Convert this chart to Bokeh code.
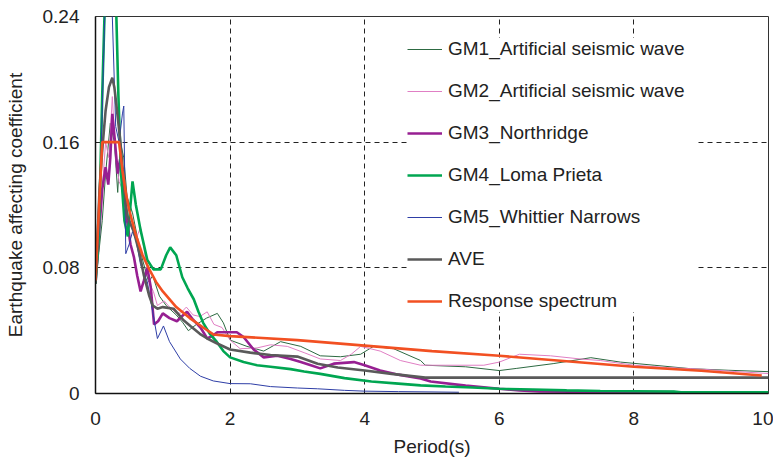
from bokeh.plotting import figure
from bokeh.models import FixedTicker, CustomJSTickFormatter, Legend, LegendItem, Range1d
from bokeh.embed import file_html
from bokeh.resources import INLINE

FONT = "Liberation Sans"

# ---------------- data ----------------
gm1_t = [0, 0.05, 0.1, 0.15, 0.22, 0.28, 0.33, 0.37, 0.42, 0.47, 0.55, 0.62, 0.7, 0.79, 0.85, 0.95, 1.05, 1.2, 1.3,
         1.38, 1.5, 1.65, 1.81, 1.9, 2.0, 2.25, 2.5, 2.75, 3.05, 3.34, 3.64, 3.94, 4.13, 4.43, 4.83, 4.9, 5.5, 6.0,
         6.26, 6.8, 7.36, 7.8, 8.3, 8.84, 9.4, 10]
gm1_v = [0.07, 0.09, 0.11, 0.14, 0.172, 0.16, 0.128, 0.16, 0.15, 0.125, 0.115, 0.1, 0.085, 0.071, 0.075, 0.062,
         0.056, 0.05, 0.045, 0.040, 0.044, 0.048, 0.051, 0.045, 0.034, 0.030, 0.027, 0.033, 0.030, 0.024, 0.0234,
         0.025, 0.030, 0.0285, 0.021, 0.018, 0.017, 0.0146, 0.016, 0.019, 0.0228, 0.020, 0.018, 0.0158, 0.0148,
         0.0139]

gm2_t = [0, 0.05, 0.1, 0.15, 0.2, 0.25, 0.3, 0.35, 0.4, 0.45, 0.5, 0.55, 0.6, 0.67, 0.72, 0.8, 0.86, 0.92, 1.02,
         1.1, 1.18, 1.26, 1.35, 1.45, 1.55, 1.66, 1.76, 1.88, 2.0, 2.15, 2.4, 2.6, 2.85, 3.1, 3.34, 3.64, 3.8, 3.94,
         4.23, 4.53, 4.83, 5.2, 5.77, 6.0, 6.3, 6.76, 7.2, 7.5, 8.0, 8.5, 9.0, 9.5, 10]
gm2_v = [0.07, 0.1, 0.13, 0.16, 0.15, 0.189, 0.15, 0.135, 0.13, 0.12, 0.11, 0.104, 0.098, 0.106, 0.092, 0.07,
         0.065, 0.056, 0.059, 0.055, 0.052, 0.051, 0.055, 0.05, 0.049, 0.052, 0.044, 0.042, 0.034, 0.0285, 0.029,
         0.031, 0.030, 0.026, 0.022, 0.021, 0.025, 0.030, 0.027, 0.021, 0.018, 0.018, 0.018, 0.020, 0.025, 0.024,
         0.022, 0.021, 0.018, 0.0165, 0.0155, 0.014, 0.0127]

gm3_t = [0, 0.05, 0.1, 0.15, 0.19, 0.22, 0.25, 0.29, 0.33, 0.37, 0.42, 0.47, 0.52, 0.57, 0.62, 0.67, 0.72, 0.77,
         0.82, 0.87, 0.93, 1.0, 1.1, 1.21, 1.28, 1.36, 1.45, 1.56, 1.66, 1.75, 1.81, 1.95, 2.1, 2.2, 2.35, 2.5, 2.7,
         2.9, 3.05, 3.2, 3.34, 3.54, 3.84, 4.0, 4.23, 4.5, 4.83, 4.98, 5.5, 6.0, 6.3, 6.6, 7.5, 8.6]
gm3_v = [0.07, 0.1, 0.13, 0.144, 0.133, 0.15, 0.178, 0.16, 0.14, 0.15, 0.13, 0.11, 0.095, 0.087, 0.075, 0.065,
         0.072, 0.08, 0.068, 0.044, 0.046, 0.051, 0.048, 0.046, 0.049, 0.052, 0.047, 0.042, 0.035, 0.037, 0.039,
         0.039, 0.039, 0.036, 0.028, 0.023, 0.024, 0.022, 0.020, 0.018, 0.016, 0.019, 0.020, 0.018, 0.0146, 0.012,
         0.0095, 0.0076, 0.005, 0.003, 0.002, 0.0013, 0.001, 0.001]

gm4_t = [0, 0.05, 0.1, 0.14, 0.2, 0.27, 0.31, 0.34, 0.38, 0.43, 0.48, 0.52, 0.55, 0.6, 0.67, 0.77, 0.86, 0.97,
         1.05, 1.11, 1.2, 1.29, 1.37, 1.46, 1.53, 1.6, 1.7, 1.8, 1.9, 2.0, 2.2, 2.4, 2.6, 2.9, 3.1, 3.34, 3.7, 4.1,
         4.5, 4.83, 5.2, 5.6, 6.0, 6.5, 7.0, 7.5, 8.0, 8.6, 8.7, 10]
gm4_v = [0.07, 0.1, 0.19, 0.25, 0.29, 0.27, 0.24, 0.19, 0.14, 0.11, 0.10, 0.12, 0.135, 0.12, 0.104, 0.085, 0.079,
         0.079, 0.088, 0.093, 0.088, 0.074, 0.067, 0.060, 0.052, 0.045, 0.038, 0.033, 0.027, 0.023, 0.020, 0.018,
         0.017, 0.0155, 0.014, 0.0125, 0.0098, 0.0076, 0.0063, 0.0052, 0.0045, 0.0038, 0.003, 0.0025, 0.002,
         0.0016, 0.0014, 0.0012, 0.0008, 0.0008]

gm5_t = [0, 0.05, 0.1, 0.15, 0.2, 0.25, 0.3, 0.35, 0.4, 0.42, 0.45, 0.5, 0.55, 0.6, 0.67, 0.77, 0.85, 0.92, 1.01,
         1.1, 1.26, 1.4, 1.56, 1.75, 2.0, 2.3, 2.6, 3.0, 3.3, 3.7, 4.0, 4.5, 5.0, 5.4]
gm5_v = [0.07, 0.1, 0.18, 0.26, 0.29, 0.24, 0.17, 0.16, 0.178, 0.183, 0.089, 0.095, 0.103, 0.098, 0.082, 0.071,
         0.052, 0.035, 0.043, 0.033, 0.022, 0.016, 0.011, 0.008, 0.0063, 0.0062, 0.0044, 0.0035, 0.003, 0.002,
         0.0015, 0.0012, 0.001, 0.0008]

ave_t = [0, 0.03, 0.06, 0.1, 0.15, 0.2, 0.25, 0.28, 0.32, 0.37, 0.42, 0.47, 0.52, 0.57, 0.65, 0.72, 0.8, 0.85,
         0.92, 1.0, 1.16, 1.3, 1.41, 1.55, 1.66, 1.8, 2.0, 2.3, 2.6, 3.0, 3.3, 3.6, 4.0, 4.4, 4.9, 10]
ave_v = [0.07, 0.1, 0.13, 0.155, 0.18, 0.195, 0.201, 0.195, 0.18, 0.16, 0.135, 0.113, 0.108, 0.103, 0.09, 0.075,
         0.062, 0.056, 0.054, 0.055, 0.054, 0.047, 0.043, 0.038, 0.035, 0.032, 0.028, 0.026, 0.0245, 0.0235, 0.019,
         0.0165, 0.0146, 0.0125, 0.0101, 0.0101]

rs_t = [0, 0.1, 0.35, 0.4, 0.45, 0.5, 0.6, 0.7, 0.8, 0.9, 1.0, 1.2, 1.4, 1.6, 1.75, 2.0, 3.0, 4.0, 5.0, 6.0, 7.0,
        8.0, 9.0, 9.9]
rs_v = [0.072, 0.16, 0.16, 0.142, 0.128, 0.117, 0.101, 0.088, 0.079, 0.071, 0.065, 0.055, 0.048, 0.042, 0.0376,
        0.0365, 0.034, 0.0305, 0.027, 0.024, 0.0205, 0.017, 0.0145, 0.0115]

labels = ["GM1_Artificial seismic wave", "GM2_Artificial seismic wave", "GM3_Northridge", "GM4_Loma Prieta",
          "GM5_Whittier Narrows", "AVE", "Response spectrum"]
x_ticks = [0, 2, 4, 6, 8, 10]
y_ticks = [0, 0.08, 0.16, 0.24]

# ---------------- figure ----------------
p = figure(width=773, height=459, output_backend="svg", toolbar_location=None,
           x_range=Range1d(0, 10), y_range=Range1d(0, 0.24),
           min_border_left=95, min_border_right=5, min_border_top=16, min_border_bottom=64)
p.background_fill_color = "white"
p.border_fill_color = "white"
p.outline_line_color = "#333333"
p.outline_line_width = 1

series = [
    (gm1_t, gm1_v, "#2d6a42", 1.0),
    (gm2_t, gm2_v, "#e07fc4", 1.0),
    (gm3_t, gm3_v, "#971f92", 2.6),
    (gm4_t, gm4_v, "#00a651", 2.6),
    (gm5_t, gm5_v, "#2e3ea6", 1.0),
    (ave_t, ave_v, "#5a5a5a", 2.6),
    (rs_t, rs_v, "#f25022", 2.6),
]
renderers = []
for t, v, c, w in series:
    r = p.line(t, v, line_color=c, line_width=w)
    renderers.append(r)

# grid
p.xgrid.ticker = FixedTicker(ticks=[2, 4, 6, 8])
p.ygrid.ticker = FixedTicker(ticks=[0.08, 0.16])
for g in (p.xgrid, p.ygrid):
    g.grid_line_color = "#222222"
    g.grid_line_dash = "5 4"
    g.grid_line_width = 1

# axes
p.xaxis.ticker = FixedTicker(ticks=x_ticks)
p.yaxis.ticker = FixedTicker(ticks=y_ticks)
p.yaxis.formatter = CustomJSTickFormatter(code="return tick == 0 ? '0' : tick.toFixed(2);")
for ax in (p.xaxis[0], p.yaxis[0]):
    ax.axis_line_color = "#111111"
    ax.axis_line_width = 1.5
    ax.major_tick_line_color = None
    ax.minor_tick_line_color = None
    ax.major_label_text_font = FONT
    ax.major_label_text_font_size = "19px"
    ax.major_label_text_color = "#222222"
    ax.axis_label_text_font = FONT
    ax.axis_label_text_font_size = "19px"
    ax.axis_label_text_font_style = "normal"
    ax.axis_label_text_color = "#222222"
p.xaxis.axis_label = "Period(s)"
p.yaxis.axis_label = "Earthquake affecting coefficient"
p.xaxis.major_label_standoff = 12
p.yaxis.major_label_standoff = 10
p.xaxis.axis_label_standoff = 8
p.yaxis.axis_label_standoff = 14

legend = Legend(items=[LegendItem(label=l, renderers=[r]) for l, r in zip(labels, renderers)],
                location=(312, 81))
legend.border_line_color = None
legend.background_fill_color = "white"
legend.background_fill_alpha = 1.0
legend.padding = 10
legend.margin = 0
legend.spacing = 20
legend.glyph_width = 35
legend.glyph_height = 22
legend.label_height = 22
legend.label_width = 250
legend.label_standoff = 6
legend.label_text_font = FONT
legend.label_text_font_size = "19px"
legend.label_text_color = "#222222"
legend.label_text_baseline = "middle"
p.add_layout(legend, "center")

open("out.html", "w").write(file_html(p, INLINE))
